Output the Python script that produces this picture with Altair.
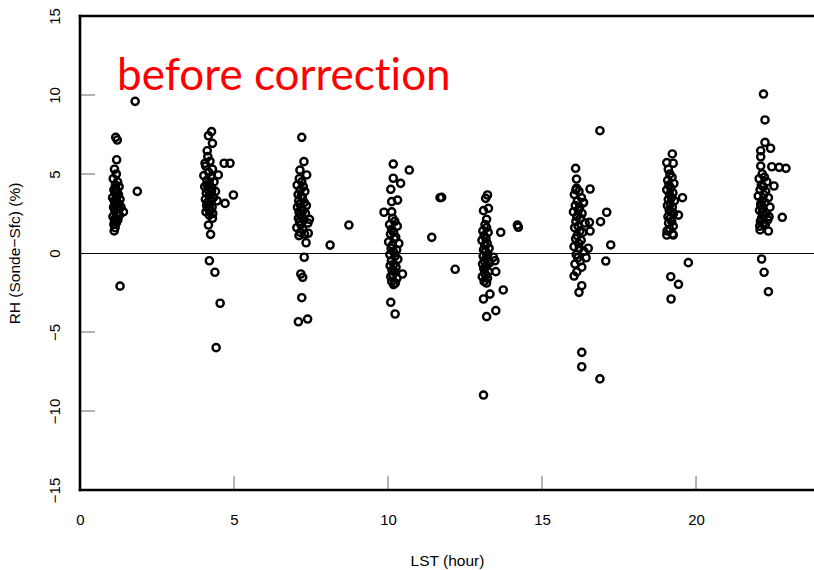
import altair as alt
import pandas as pd

# ---- data (LST hour, RH difference %) ----
hour_01 = [1.79, 1.16, 1.21, 1.19, 1.86, 1.41, 1.11, 1.30,
           1.12, 1.18, 1.08, 1.22, 1.15, 1.27, 1.10, 1.20, 1.14, 1.25, 1.06, 1.17, 1.30, 1.11, 1.21, 1.16,
           1.09, 1.24, 1.13, 1.19, 1.28, 1.07, 1.15, 1.23, 1.12, 1.33, 1.18, 1.10, 1.26, 1.14, 1.20, 1.16]
rh_01 = [9.6, 7.32, 7.15, 5.9, 3.9, 2.6, 1.4, -2.1,
         5.3, 5.0, 4.7, 4.5, 4.3, 4.2, 4.0, 3.9, 3.8, 3.7, 3.5, 3.4, 3.4, 3.3, 3.2, 3.0,
         2.9, 2.8, 2.7, 2.5, 2.4, 2.3, 2.2, 2.1, 2.0, 2.9, 1.9, 1.8, 3.1, 1.6, 3.6, 4.1]

hour_04 = [4.27, 4.17, 4.30, 4.13, 4.06, 4.68, 4.87, 4.49, 4.98, 4.71, 4.30, 4.17, 4.24, 4.20, 4.38, 4.55, 4.42,
           4.15, 4.22, 4.08, 4.30, 4.18, 4.02, 4.25, 4.12, 4.35, 4.20, 4.05, 4.28, 4.16, 4.40, 4.10, 4.23,
           4.19, 4.33, 4.07, 4.26, 4.14, 4.21, 4.45, 4.11, 4.29, 4.17, 4.24, 4.09, 4.31, 4.20, 4.13, 4.27]
rh_04 = [7.68, 7.42, 6.94, 6.47, 5.68, 5.68, 5.68, 4.94, 3.67, 3.14, 2.2, 1.77, 1.18, -0.49, -1.22, -3.18, -5.99,
         6.1, 5.8, 5.5, 5.3, 5.1, 4.9, 4.8, 4.6, 4.5, 4.4, 4.2, 4.1, 4.0, 3.9, 3.8, 3.7,
         3.6, 3.5, 3.4, 3.3, 3.2, 3.1, 3.3, 3.0, 2.9, 2.8, 2.7, 2.6, 2.5, 2.4, 4.3, 3.9]

hour_07 = [7.20, 7.27, 7.14, 7.36, 7.45, 8.73, 7.41, 7.34, 8.12, 7.28, 7.17, 7.23, 7.20, 7.09, 7.39,
           7.12, 7.20, 7.05, 7.25, 7.15, 7.30, 7.08, 7.18, 7.22, 7.10, 7.28, 7.14, 7.35, 7.06, 7.19,
           7.24, 7.11, 7.32, 7.16, 7.21, 7.09, 7.27, 7.13, 7.40, 7.17, 7.04, 7.23, 7.15, 7.29, 7.11]
rh_07 = [7.32, 5.78, 5.25, 4.94, 2.13, 1.77, 1.25, 0.65, 0.5, -0.27, -1.33, -1.54, -2.83, -4.35, -4.18,
         4.7, 4.5, 4.3, 4.2, 4.0, 3.9, 3.7, 3.6, 3.5, 3.3, 3.2, 3.1, 3.0, 2.9, 2.8,
         2.7, 2.6, 2.5, 2.4, 2.3, 2.2, 2.1, 2.0, 1.9, 1.8, 1.6, 1.5, 1.3, 1.2, 1.1]

hour_10 = [10.17, 10.69, 10.17, 10.41, 10.09, 11.69, 10.12, 10.31, 9.87, 10.12, 11.42, 10.47, 10.09, 10.23,
           10.15, 10.22, 10.05, 10.30, 10.12, 10.18, 10.08, 10.25, 10.20, 10.02, 10.35, 10.14, 10.10, 10.28, 10.17,
           10.06, 10.23, 10.32, 10.11, 10.19, 10.07, 10.26, 10.13, 10.21, 10.16, 10.09, 10.29, 10.12, 10.24, 10.18]
rh_10 = [5.63, 5.25, 4.73, 4.41, 4.03, 3.5, 3.25, 3.35, 2.58, 2.6, 0.99, -1.33, -3.12, -3.86,
         2.2, 2.0, 1.8, 1.7, 1.5, 1.3, 1.2, 1.0, 0.9, 0.7, 0.6, 0.5, 0.3, 0.2, 0.1,
         -0.1, -0.2, -0.4, -0.5, -0.7, -0.8, -0.9, -1.1, -1.2, -1.4, -1.5, -1.6, -1.8, -1.9, -2.0]

hour_13 = [11.74, 13.23, 13.17, 13.26, 13.10, 13.20, 14.20, 14.23, 13.66, 12.18, 13.42, 13.47, 13.50, 13.74,
           13.31, 13.10, 13.50, 13.20, 13.10,
           13.15, 13.20, 13.08, 13.25, 13.12, 13.18, 13.05, 13.22, 13.14, 13.28, 13.10, 13.17, 13.24, 13.09,
           13.19, 13.13, 13.30, 13.07, 13.21, 13.16, 13.11, 13.26, 13.14, 13.18, 13.06, 13.23, 13.12, 13.20]
rh_13 = [3.52, 3.67, 3.46, 2.83, 2.68, 2.13, 1.77, 1.63, 1.31, -1.03, -0.27, -0.49, -1.18, -2.34,
         -2.6, -2.91, -3.65, -4.03, -8.99,
         1.8, 1.6, 1.4, 1.3, 1.1, 0.9, 0.8, 0.6, 0.5, 0.3, 0.2, 0.1, -0.1, -0.2,
         -0.3, -0.5, -0.6, -0.7, -0.8, -0.9, -1.0, -1.2, -1.3, -1.4, -1.5, -1.6, -1.8, -1.9]

hour_16 = [16.88, 16.09, 16.12, 16.56, 16.10, 16.34, 17.10, 16.90, 16.54, 16.56, 17.23, 16.50, 17.07, 16.43,
           16.04, 16.29, 16.20, 16.29, 16.29, 16.88,
           16.12, 16.20, 16.05, 16.28, 16.15, 16.35, 16.08, 16.22, 16.18, 16.02, 16.30, 16.13, 16.25, 16.10,
           16.40, 16.17, 16.06, 16.23, 16.32, 16.14, 16.09, 16.27, 16.19, 16.04, 16.21, 16.36, 16.11, 16.16,
           16.24, 16.07, 16.29, 16.13]
rh_16 = [7.74, 5.36, 4.68, 4.05, 4.0, 3.18, 2.58, 1.98, 1.94, 1.39, 0.51, 0.3, -0.51, -0.3,
         -1.46, -2.07, -2.49, -6.29, -7.2, -7.97,
         4.1, 3.9, 3.7, 3.5, 3.3, 3.2, 3.0, 2.9, 2.7, 2.6, 2.5, 2.3, 2.2, 2.0,
         1.9, 1.7, 1.6, 1.4, 1.3, 1.1, 0.9, 0.8, 0.6, 0.4, 0.3, 0.1, -0.1, -0.3,
         -0.5, -0.7, -0.9, -1.2]

hour_19 = [19.23, 19.05, 19.26, 19.10, 19.56, 19.43, 19.05, 19.26, 19.75, 19.18, 19.43, 19.19,
           19.15, 19.22, 19.08, 19.28, 19.12, 19.18, 19.05, 19.25, 19.14, 19.20, 19.10, 19.30, 19.16,
           19.07, 19.23, 19.13, 19.19, 19.27, 19.09, 19.17, 19.21, 19.11, 19.26, 19.15, 19.06, 19.24]
rh_19 = [6.27, 5.72, 5.68, 5.3, 3.5, 2.4, 1.14, 1.14, -0.61, -1.5, -1.98, -2.91,
         5.0, 4.8, 4.6, 4.4, 4.3, 4.1, 4.0, 3.8, 3.7, 3.5, 3.4, 3.3, 3.1,
         3.0, 2.9, 2.7, 2.6, 2.5, 2.3, 2.2, 2.0, 1.9, 1.7, 1.5, 1.4, 1.2]

hour_22 = [22.19, 22.24, 22.24, 22.42, 22.10, 22.10, 22.10, 22.46, 22.70, 22.92, 22.53, 22.80, 22.08, 22.35,
           22.13, 22.21, 22.35,
           22.15, 22.22, 22.05, 22.30, 22.12, 22.18, 22.08, 22.26, 22.20, 22.02, 22.35, 22.14, 22.24, 22.10,
           22.40, 22.17, 22.06, 22.28, 22.21, 22.13, 22.33, 22.09, 22.19, 22.25, 22.11, 22.16, 22.37, 22.07]
rh_22 = [10.06, 8.42, 7.0, 6.63, 6.47, 6.09, 5.5, 5.46, 5.42, 5.36, 4.24, 2.26, 1.46, 1.39,
         -0.38, -1.22, -2.45,
         5.0, 4.8, 4.7, 4.5, 4.3, 4.2, 4.0, 3.9, 3.7, 3.6, 3.5, 3.3, 3.2, 3.1,
         2.9, 2.8, 2.7, 2.5, 2.4, 2.2, 2.1, 2.0, 1.9, 1.8, 3.0, 2.6, 2.3, 1.7]

x_tick_values = [0, 5, 10, 15, 20]
y_tick_values = [-15, -10, -5, 0, 5, 10, 15]
x_inner_ticks = [5, 10, 15, 20]
y_inner_ticks = [-10, -5, 5, 10]
panel_text = "before correct\u200cion"

hours = hour_01 + hour_04 + hour_07 + hour_10 + hour_13 + hour_16 + hour_19 + hour_22
rhs = rh_01 + rh_04 + rh_07 + rh_10 + rh_13 + rh_16 + rh_19 + rh_22
df = pd.DataFrame({"LST": hours, "RH": rhs})

W, H = 734, 474
FONT = "Liberation Sans"
x_scale = alt.Scale(domain=[0, 23.83], nice=False, zero=False)
y_scale = alt.Scale(domain=[-15, 15], nice=False, zero=False)

one = pd.DataFrame({"t": [panel_text]})

points = alt.Chart(df).mark_point(
    shape="circle", filled=False, color="black", size=52, strokeWidth=2.4, opacity=1
).encode(
    x=alt.X("LST:Q", scale=x_scale, axis=alt.Axis(
        title="LST (hour)", values=x_tick_values, ticks=False, tickSize=0, domain=False, grid=False,
        labelFont=FONT, labelFontSize=15, labelColor="black", labelPadding=22, labelFlush=False,
        labelBaseline="top", titleFont=FONT, titleFontSize=15.5, titleFontWeight="normal",
        titleColor="black", titleY=70, titleBaseline="middle")),
    y=alt.Y("RH:Q", scale=y_scale, axis=alt.Axis(
        title="RH (Sonde\u2212Sfc) (%)", values=y_tick_values, ticks=False, tickSize=0, domain=False,
        grid=False, labelFont=FONT, labelFontSize=15, labelColor="black", labelAngle=270,
        labelAlign="center", labelBaseline="bottom", labelPadding=18, labelFlush=False,
        titleFont=FONT, titleFontSize=15.5, titleFontWeight="normal", titleColor="black",
        titleAngle=270, titleX=-66, titleY=237, titleAlign="center", titleBaseline="middle")),
)

zero_line = alt.Chart(pd.DataFrame({"v": [0]})).mark_rule(
    color="black", strokeWidth=1, yOffset=0.5
).encode(y=alt.Y("v:Q", scale=y_scale, axis=None), x=alt.value(0), x2=alt.value(W))

yt = alt.Chart(pd.DataFrame({"v": y_inner_ticks})).mark_rule(color="#666", strokeWidth=1).encode(
    y=alt.Y("v:Q", scale=y_scale, axis=None), x=alt.value(0), x2=alt.value(15))

xt = alt.Chart(pd.DataFrame({"v": x_inner_ticks})).mark_rule(color="#666", strokeWidth=1).encode(
    x=alt.X("v:Q", scale=x_scale, axis=None), y=alt.value(H), y2=alt.value(H - 14))

frame_left = alt.Chart(one).mark_rule(color="black", strokeWidth=2.6, strokeCap="square").encode(
    x=alt.value(0), y=alt.value(0), y2=alt.value(H))
frame_top = alt.Chart(one).mark_rule(color="black", strokeWidth=2.6, strokeCap="square").encode(
    y=alt.value(0), x=alt.value(0), x2=alt.value(W + 5))
frame_bottom = alt.Chart(one).mark_rule(color="black", strokeWidth=2.6, strokeCap="square").encode(
    y=alt.value(H), x=alt.value(0), x2=alt.value(W + 5))

label = alt.Chart(one).mark_text(
    align="left", baseline="alphabetic", font="Lato", fontSize=44, color="#ff0000"
).encode(x=alt.value(37), y=alt.value(74), text="t:N")

chart = alt.layer(
    points, zero_line, yt, xt, frame_left, frame_top, frame_bottom, label
).resolve_axis(
    x="independent", y="independent"
).properties(
    width=W, height=H,
    padding={"left": 80, "top": 16, "right": 0, "bottom": 80},
    autosize=alt.AutoSizeParams(type="none"),
    background="white",
).configure_view(stroke=None)

chart.save("out.html", embed_options={"renderer": "svg", "actions": False})
